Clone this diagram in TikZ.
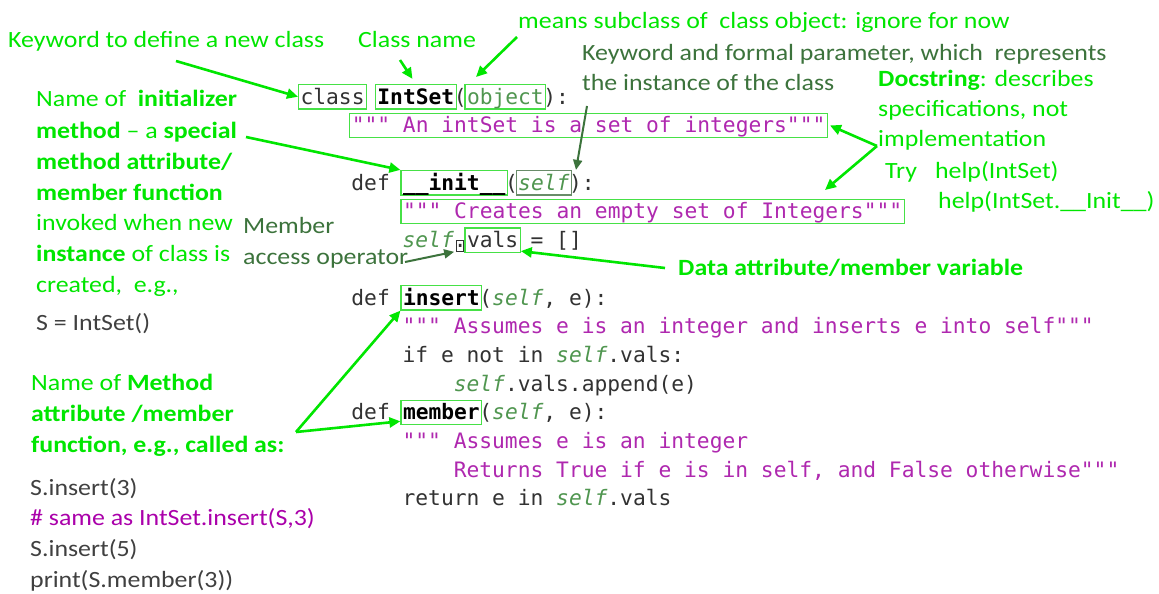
\documentclass[tikz,border=0pt]{standalone}
\usepackage{fontspec}
\setmainfont[FakeStretch=1.11]{Carlito}
\newfontfamily\codefont{DejaVu Sans Mono}
\usetikzlibrary{arrows.meta,calc}

\definecolor{lgreen}{RGB}{0,230,0}
\definecolor{boxgreen}{RGB}{70,225,70}
\definecolor{dkgreen}{RGB}{60,115,60}
\definecolor{selfgray}{RGB}{105,140,105}
\definecolor{codegray}{RGB}{50,50,50}
\definecolor{codegreen}{RGB}{80,150,80}
\definecolor{codemag}{RGB}{175,40,175}
\definecolor{cmtmag}{RGB}{170,0,170}
\definecolor{txtgray}{RGB}{64,64,64}

\newcommand\notefont{\fontsize{23.3}{28}\selectfont}
\newcommand\cfont{\fontsize{21.26}{25}\selectfont\codefont}

\begin{document}
\begin{tikzpicture}[x=1pt,y=-1pt,
  note/.style={anchor=base west, inner sep=0pt, font=\notefont, text=lgreen},
  code/.style={anchor=base west, inner sep=0pt, font=\cfont, text=codegray},
  cbox/.style={code, draw=boxgreen, line width=1.2pt, inner xsep=2pt, inner ysep=2pt,
               text height=17.5pt, text depth=3pt, xshift=-2pt},
  sbox/.style={cbox, draw=selfgray, font=\cfont\itshape, text=codegreen},
  kwbold/.style={cbox, font=\cfont\bfseries, text=black},
  slf/.style={code, font=\cfont\itshape, text=codegreen},
  dbox/.style={draw=codegray, line width=0.8pt, inner sep=0pt, minimum width=7pt, minimum height=11pt},
  garrow/.style={draw=lgreen, line width=2.6pt, -{Triangle[length=11pt,width=10pt]}},
  darrow/.style={draw=dkgreen, line width=2pt, -{Triangle[length=10pt,width=9pt]}}
]
\useasboundingbox (0,0) rectangle (1159,594);
\fill[white] (0,0) rectangle (1159,594);

% ---- code listing ----
\node[cbox] (cls) at (300,104) {class};
\node[kwbold] (intset) at (376.8,104) {IntSet};
\node[code] (r1a) at (453.6,104) {(};
\node[cbox,text=codegreen] (obj) at (466.4,104) {object};
\node[code] (r1b) at (543.2,104) {):};

\node[cbox,text=codemag] (doc1) at (351.2,132.7) {""" An intSet is a set of integers"""};

\node[code] (def1) at (351.2,190) {def};
\node[kwbold] (init) at (402.4,190) {\_\_init\_\_};
\node[code] (r3a) at (504.8,190) {(};
\node[sbox] (selfbox) at (517.6,190) {self};
\node[code] (r3b) at (568.8,190) {):};

\node[cbox,text=codemag] (doc2) at (402.4,218.8) {""" Creates an empty set of Integers"""};

\node[slf] (r5a) at (402.4,247.5) {self};
\node[code] (r5b) at (453.6,247.5) {.};
\node[dbox] (dotbox) at (460,245.5) {};
\node[cbox] (vals) at (466.4,247.5) {vals};
\node[code] (r5c) at (530.4,247.5) {= []};

\node[code] (def2) at (351.2,305) {def};
\node[kwbold] (insert) at (402.4,305) {insert};
\node[code] (r6a) at (479.2,305) {(};
\node[slf] (r6b) at (492,305) {self};
\node[code] (r6c) at (543.2,305) {, e):};

\node[code,text=codemag] (r7) at (402.4,333.6) {""" Assumes e is an integer and inserts e into self"""};

\node[code] (r8a) at (402.4,362.3) {if e not in};
\node[slf] (r8b) at (556,362.3) {self};
\node[code] (r8c) at (607.2,362.3) {.vals:};

\node[slf] (r9a) at (453.6,391) {self};
\node[code] (r9b) at (504.8,391) {.vals.append(e)};

\node[code] (def3) at (351.2,419.7) {def};
\node[kwbold] (member) at (402.4,419.7) {member};
\node[code] (r10a) at (479.2,419.7) {(};
\node[slf] (r10b) at (492,419.7) {self};
\node[code] (r10c) at (543.2,419.7) {, e):};

\node[code,text=codemag] (r11) at (402.4,448.4) {""" Assumes e is an integer};
\node[code,text=codemag] (r12) at (453.6,477) {Returns True if e is in self, and False otherwise"""};

\node[code] (r13a) at (402.4,505.8) {return e in};
\node[slf] (r13b) at (556,505.8) {self};
\node[code] (r13c) at (607.2,505.8) {.vals};

% ---- annotations ----
\node[note] (kw) at (8,48) {Keyword to define a new class};
\node[note] (cn) at (358,48) {Class name};
\node[note] (sub) at (518,29) {means subclass of~ class object: ignore for now};
\node[note,text=dkgreen] (kp1) at (582,60) {Keyword and formal parameter, which~ represents};
\node[note,text=dkgreen] (kp2) at (582,91) {the instance of the class};

\node[note] (ds1) at (878,86) {\textbf{Docstring}: describes};
\node[note] (ds2) at (878,116) {specifications, not};
\node[note] (ds3) at (878,146) {implementation};
\node[note] (ds4) at (885,178) {Try\hspace{18pt}help(IntSet)};
\node[note] (ds5) at (938,208) {help(IntSet.\_\_Init\_\_)};

\node[note] (in1) at (36,106.7) {Name of~ \textbf{initializer}};
\node[note] (in2) at (36,138) {\textbf{method} -- a \textbf{special}};
\node[note] (in3) at (36,169) {\textbf{method attribute/}};
\node[note] (in4) at (36,200) {\textbf{member function}};
\node[note] (in5) at (36,230.7) {invoked when new};
\node[note] (in6) at (36,261.7) {\textbf{instance} of class is};
\node[note] (in7) at (36,292.3) {created,~ e.g.,};
\node[note,text=txtgray] (ex0) at (36,330.7) {S = IntSet()};

\node[note,text=dkgreen] (ma1) at (243,233) {Member};
\node[note,text=dkgreen] (ma2) at (243,264) {access operator};

\node[note] (da) at (678,275) {\textbf{Data attribute/member variable}};

\node[note] (me1) at (31,390) {Name of \textbf{Method}};
\node[note] (me2) at (31,421) {\textbf{attribute /member}};
\node[note] (me3) at (31,452) {\textbf{function, e.g., called as:}};
\node[note,text=txtgray] (ex1) at (30,495) {S.insert(3)};
\node[note,text=cmtmag] (ex2) at (30,525.5) {\# same as IntSet.insert(S,3)};
\node[note,text=txtgray] (ex3) at (30,556) {S.insert(5)};
\node[note,text=txtgray] (ex4) at (30,587) {print(S.member(3))};

% ---- connectors ----
\coordinate (kwA) at (176,61);
\coordinate (cnA) at (400,60);
\coordinate (subA) at (517,37);
\coordinate (subB) at (476,77);
\coordinate (kpA) at (587,106);
\coordinate (inA) at (246,137);
\coordinate (dsV) at (877,146);
\coordinate (dsB) at (825,190);
\coordinate (maA) at (405,262);
\coordinate (daA) at (665,268);
\coordinate (meV) at (296,432);

\draw[garrow] (kwA) -- (cls.west);
\draw[garrow, shorten >=6pt] (cnA) -- (intset.north);
\draw[garrow] (subA) -- (subB);
\draw[darrow] (kpA) -- ([xshift=4pt]selfbox.north east);
\draw[garrow] (inA) -- (init.north west);
\draw[garrow] (dsV) -- ([xshift=2pt]doc1.east);
\draw[garrow] (dsV) -- (dsB);
\draw[darrow, shorten >=2pt] (maA) -- (dotbox.south west);
\draw[garrow] (daA) -- ([yshift=2pt]vals.south east);
\draw[garrow] (meV) -- (insert.south west);
\draw[garrow] (meV) -- ([yshift=4pt]member.south west);
\end{tikzpicture}
\end{document}
